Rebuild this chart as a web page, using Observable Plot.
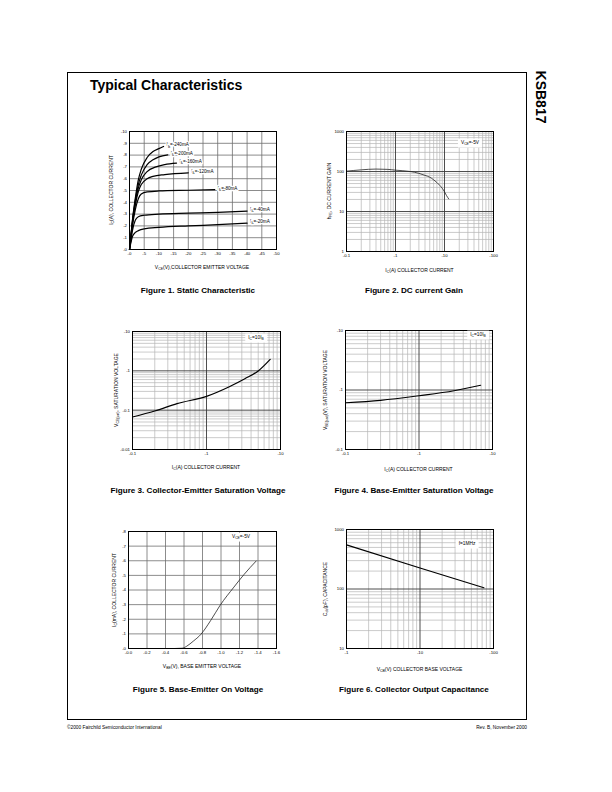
<!DOCTYPE html>
<html><head><meta charset="utf-8">
<script src="https://cdn.jsdelivr.net/npm/d3@7"></script>
<script src="https://cdn.jsdelivr.net/npm/@observablehq/plot@0.6"></script>
<style>
html,body{margin:0;padding:0;background:#fff;}
#page{position:relative;width:612px;height:792px;background:#fff;overflow:hidden;font-family:"Liberation Sans",Arial,sans-serif;color:#000;}
.abs{position:absolute;white-space:nowrap;line-height:1;}
.sub{font-size:70%;position:relative;top:0.3em;}
.box{background:#fff;padding:2px 3px;}
svg{position:absolute;overflow:visible;}
</style></head>
<body><div id="page"></div>
<script>
// ---------- DATA ----------
// Figure 1: static characteristic, [VCE (V), IC (A)] per base current
const fig1Labels = ["I_{B}=-240mA","I_{B}=-200mA","I_{B}=-160mA","I_{B}=-120mA","I_{B}=-80mA","I_{B}=-40mA","I_{B}=-20mA"];
const ib240 = [[0,0],[-0.5,-1.25],[-1,-2.5],[-2,-4.4],[-3,-5.9],[-4,-6.8],[-6,-7.8],[-8,-8.3],[-10,-8.55],[-11.6,-8.73]];
const ib200 = [[0,0],[-0.5,-1.2],[-1,-2.4],[-2,-4.2],[-3,-5.5],[-4,-6.3],[-6,-7.2],[-8,-7.6],[-10,-7.85],[-13,-8.02]];
const ib160 = [[0,0],[-0.5,-1.15],[-1,-2.3],[-2,-4.0],[-3,-5.2],[-4,-5.9],[-6,-6.6],[-9,-7.0],[-12,-7.2],[-16,-7.32]];
const ib120 = [[0,0],[-0.5,-1.1],[-1,-2.2],[-2,-3.8],[-3,-4.9],[-4,-5.5],[-6,-6.0],[-8,-6.2],[-12,-6.35],[-20,-6.5]];
const ib80  = [[0,0],[-0.5,-1.0],[-1,-2.0],[-2,-3.4],[-3,-4.3],[-4,-4.7],[-6,-4.88],[-10,-4.96],[-20,-5.02],[-29,-5.07]];
const ib40  = [[0,0],[-0.5,-0.8],[-1,-1.6],[-2,-2.5],[-3,-2.78],[-5,-2.9],[-10,-3.0],[-20,-3.08],[-30,-3.15],[-40,-3.25]];
const ib20  = [[0,0],[-0.5,-0.6],[-1,-1.1],[-2,-1.45],[-3,-1.6],[-5,-1.75],[-10,-1.87],[-20,-2.0],[-30,-2.1],[-40,-2.23]];
const fig1XTicks = [0,-5,-10,-15,-20,-25,-30,-35,-40,-45,-50];
const fig1YTicks = [0,-1,-2,-3,-4,-5,-6,-7,-8,-9,-10];

// Figure 2: DC current gain
const icGain = [0.1,0.2,0.4,0.7,1,2,3,4,5,6,7,8,9,10,11,12.2];
const hfe    = [102,110,115,113,108,100,90,80,72,62,53,45,38,31,25,20.6];

// Figure 3: VCE(sat)
const icSat  = [0.1,0.2,0.4,1,2,3.3,5,7.25];
const vceSat = [0.067,0.095,0.147,0.225,0.39,0.63,0.99,1.95];

// Figure 4: VBE(sat)
const icBe   = [0.1,0.3,1,3,6.9];
const vbeSat = [0.61,0.67,0.80,0.97,1.2];

// Figure 5: base-emitter on voltage
const vbeOn = [-0.44,-0.5,-0.58,-0.63,-0.7,-0.78,-0.89,-0.99,-1.14,-1.25,-1.38];
const icOn  = [0,0,-0.02,-0.16,-0.5,-0.95,-1.93,-2.95,-4.2,-5.07,-5.98];
const fig5XTicks = [0,-0.2,-0.4,-0.6,-0.8,-1.0,-1.2,-1.4,-1.6];
const fig5YTicks = [0,-1,-2,-3,-4,-5,-6,-7,-8];

// Figure 6: collector output capacitance
const vcb = [1,10,74];
const cob = [553,225,105];

// ---------- HELPERS ----------
const page = document.getElementById("page");
function subHTML(s){return s.replace(/_\{([^}]*)\}/g,'<span class="sub">$1</span>');}
function addText(x,y,s,{size=5,bold=false,rotate=0,anchor="middle",box=false,family=null}={}){
  const d=document.createElement("div");
  d.className="abs"+(box?" box":"");
  d.innerHTML=subHTML(s);
  d.style.fontSize=size+"px";
  if(bold)d.style.fontWeight="bold";
  if(family)d.style.fontFamily=family;
  d.style.left=x+"px";d.style.top=y+"px";
  const tx=anchor==="middle"?"-50%":anchor==="end"?"-100%":"0";
  d.style.transform=`translate(${tx},-50%)`;
  if(rotate){d.style.transform=`translate(-50%,-50%) rotate(${rotate}deg)`;d.style.transformOrigin="50% 50%";}
  page.appendChild(d);return d;
}
function subifySVG(svg){
  svg.querySelectorAll('g[aria-label="text"] text').forEach(t=>{
    const s=t.textContent; if(!s.includes("_{"))return;
    t.textContent="";
    const parts=s.split(/(_\{[^}]*\})/);
    let shifted=false;
    for(const p of parts){ if(!p)continue;
      const ts=document.createElementNS("http://www.w3.org/2000/svg","tspan");
      const m=p.match(/^_\{([^}]*)\}$/);
      if(m){ts.textContent=m[1];ts.setAttribute("font-size","70%");ts.setAttribute("dy","1.2");shifted=true;}
      else{ts.textContent=p; if(shifted){ts.setAttribute("dy","-1.2");shifted=false;}}
      t.appendChild(ts);
    }
  });
}
function logGrid(lo,hi){const minor=[],major=[];
  for(let d=lo;d<hi*1.0001;d*=10){major.push(d);for(let k=2;k<=9;k++){if(d*k<hi*0.9999)minor.push(d*k);}}
  return {minor,major};}
const ML=24,MR=10,MT=6,MB=12;
function place(left,top,w,h,opts){
  const p=Plot.plot(Object.assign({
    width:w+ML+MR,height:h+MT+MB,marginLeft:ML,marginRight:MR,marginTop:MT,marginBottom:MB,
    style:{fontSize:"4.3px",fontFamily:"'Liberation Sans',Arial,sans-serif",background:"transparent",overflow:"visible"}
  },opts));
  p.style.left=(left-ML)+"px";p.style.top=(top-MT)+"px";
  subifySVG(p);
  page.appendChild(p);return p;
}
const axisOpts={tickSize:0,tickPadding:2.5,label:null};
const linGrid="#6e6e6e", minorC="#b4b4b4", majorC="#3a3a3a";
const capFont="'Liberation Sans Narrow','Arial Narrow','Liberation Sans',sans-serif";
const capSize=8.1;

// ---------- FIGURE 1 ----------
const fig1Series=[ib240,ib200,ib160,ib120,ib80,ib40,ib20];
const fig1Data=fig1Series.flatMap((s,i)=>s.map(([v,c])=>({v,c,k:fig1Labels[i]})));
const fig1Ends=fig1Series.map((s,i)=>({v:s[s.length-1][0],c:s[s.length-1][1],k:fig1Labels[i]}));
place(129,131,147,118,{
  x:{domain:[0,-50],ticks:fig1XTicks,tickFormat:d=>d===0?"-0":String(d),...axisOpts},
  y:{domain:[0,-10],ticks:fig1YTicks,tickFormat:d=>d===0?"-0":String(d),...axisOpts},
  marks:[
    Plot.ruleX(fig1XTicks,{stroke:linGrid,strokeWidth:0.8}),
    Plot.ruleY(fig1YTicks,{stroke:linGrid,strokeWidth:0.8}),
    Plot.line(fig1Data,{x:"v",y:"c",z:"k",stroke:"black",strokeWidth:1.2,curve:"monotone-x"}),
    Plot.text(fig1Ends,{x:"v",y:"c",text:"k",textAnchor:"start",dx:3,dy:-1.5,fontSize:4.6,fill:"black",stroke:"white",strokeWidth:2.5}),
    Plot.frame({stroke:"black",strokeWidth:1})
  ]});
addText(112,190,"I_{C}(A), COLLECTOR CURRENT",{rotate:-90,size:5});
addText(202,268,"V_{CE}(V),COLLECTOR EMITTER VOLTAGE",{size:5});
addText(198,291,"Figure 1. Static Characteristic",{size:capSize,bold:true,family:capFont});

// ---------- FIGURE 2 ----------
const g2x=logGrid(0.1,100), g2y=logGrid(1,1000);
place(346,131,147,120,{
  x:{type:"log",domain:[0.1,100],ticks:[0.1,1,10,100],tickFormat:d=>"-"+d,...axisOpts},
  y:{type:"log",domain:[1,1000],ticks:[1,10,100,1000],tickFormat:d=>String(d),...axisOpts},
  marks:[
    Plot.ruleX(g2x.minor,{stroke:minorC,strokeWidth:0.7}),
    Plot.ruleY(g2y.minor,{stroke:minorC,strokeWidth:0.7}),
    Plot.ruleX(g2x.major,{stroke:majorC,strokeWidth:0.9}),
    Plot.ruleY(g2y.major,{stroke:majorC,strokeWidth:0.9}),
    Plot.line(icGain.map((c,i)=>({c,h:hfe[i]})),{x:"c",y:"h",stroke:"#222",strokeWidth:0.8,curve:"monotone-x"}),
    Plot.frame({stroke:"black",strokeWidth:1})
  ]});
addText(330,191,"h_{FE}, DC CURRENT GAIN",{rotate:-90,size:5});
addText(419.5,271,"I_{C}(A) COLLECTOR CURRENT",{size:5});
addText(470,143,"V_{CE}=-5V",{size:4.8,box:true});
addText(414,291,"Figure 2. DC current Gain",{size:capSize,bold:true,family:capFont});

// ---------- FIGURE 3 ----------
const g3x=logGrid(0.1,10), g3y=logGrid(0.01,10);
place(132,331,148,118,{
  x:{type:"log",domain:[0.1,10],ticks:[0.1,1,10],tickFormat:d=>"-"+d,...axisOpts},
  y:{type:"log",domain:[0.01,10],ticks:[0.01,0.1,1,10],tickFormat:d=>"-"+d,...axisOpts},
  marks:[
    Plot.ruleX(g3x.minor,{stroke:minorC,strokeWidth:0.7}),
    Plot.ruleY(g3y.minor,{stroke:minorC,strokeWidth:0.7}),
    Plot.ruleX(g3x.major,{stroke:majorC,strokeWidth:0.9}),
    Plot.ruleY(g3y.major,{stroke:majorC,strokeWidth:0.9}),
    Plot.line(icSat.map((c,i)=>({c,v:vceSat[i]})),{x:"c",y:"v",stroke:"black",strokeWidth:1.2,curve:"monotone-x"}),
    Plot.frame({stroke:"black",strokeWidth:1})
  ]});
addText(117,390,"V_{CE(sat)}, SATURATION VOLTAGE",{rotate:-90,size:5});
addText(206,468,"I_{C}(A) COLLECTOR CURRENT",{size:5});
addText(256,338,"I_{C}=10I_{B}",{size:4.8,box:true});
addText(198,491,"Figure 3. Collector-Emitter Saturation Voltage",{size:capSize,bold:true,family:capFont});

// ---------- FIGURE 4 ----------
const g4x=logGrid(0.1,10), g4y=logGrid(0.1,10);
place(345,330,147,119,{
  x:{type:"log",domain:[0.1,10],ticks:[0.1,1,10],tickFormat:d=>"-"+d,...axisOpts},
  y:{type:"log",domain:[0.1,10],ticks:[0.1,1,10],tickFormat:d=>"-"+d,...axisOpts},
  marks:[
    Plot.ruleX(g4x.minor,{stroke:minorC,strokeWidth:0.7}),
    Plot.ruleY(g4y.minor,{stroke:minorC,strokeWidth:0.7}),
    Plot.ruleX(g4x.major,{stroke:majorC,strokeWidth:0.9}),
    Plot.ruleY(g4y.major,{stroke:majorC,strokeWidth:0.9}),
    Plot.line(icBe.map((c,i)=>({c,v:vbeSat[i]})),{x:"c",y:"v",stroke:"black",strokeWidth:1.1,curve:"monotone-x"}),
    Plot.frame({stroke:"black",strokeWidth:1})
  ]});
addText(326,390,"V_{BE(sat)}(V), SATURATION VOLTAGE",{rotate:-90,size:5});
addText(418.5,470,"I_{C}(A) COLLECTOR CURRENT",{size:5});
addText(478,335,"I_{C}=10I_{B}",{size:4.8,box:true});
addText(414,491,"Figure 4. Base-Emitter Saturation Voltage",{size:capSize,bold:true,family:capFont});

// ---------- FIGURE 5 ----------
place(128,531,148,117,{
  x:{domain:[0,-1.6],ticks:fig5XTicks,tickFormat:d=>d===0?"-0.0":d.toFixed(1),...axisOpts},
  y:{domain:[0,-8],ticks:fig5YTicks,tickFormat:d=>d===0?"-0":String(d),...axisOpts},
  marks:[
    Plot.ruleX(fig5XTicks,{stroke:linGrid,strokeWidth:0.8}),
    Plot.ruleY(fig5YTicks,{stroke:linGrid,strokeWidth:0.8}),
    Plot.line(vbeOn.map((v,i)=>({v,c:icOn[i]})),{x:"v",y:"c",stroke:"#222",strokeWidth:0.8,curve:"monotone-x"}),
    Plot.frame({stroke:"black",strokeWidth:1})
  ]});
addText(115,590,"I_{C}(mA), COLLECTOR CURRENT",{rotate:-90,size:5});
addText(202,667,"V_{BE}(V), BASE EMITTER VOLTAGE",{size:5});
addText(241,537,"V_{CE}=-5V",{size:4.8,box:true});
addText(198,690,"Figure 5. Base-Emitter On Voltage",{size:capSize,bold:true,family:capFont});

// ---------- FIGURE 6 ----------
const g6x=logGrid(1,100), g6y=logGrid(10,1000);
place(346,529,147,119,{
  x:{type:"log",domain:[1,100],ticks:[1,10,100],tickFormat:d=>"-"+d,...axisOpts},
  y:{type:"log",domain:[10,1000],ticks:[10,100,1000],tickFormat:d=>String(d),...axisOpts},
  marks:[
    Plot.ruleX(g6x.minor,{stroke:minorC,strokeWidth:0.7}),
    Plot.ruleY(g6y.minor,{stroke:minorC,strokeWidth:0.7}),
    Plot.ruleX(g6x.major,{stroke:majorC,strokeWidth:0.9}),
    Plot.ruleY(g6y.major,{stroke:majorC,strokeWidth:0.9}),
    Plot.line(vcb.map((v,i)=>({v,c:cob[i]})),{x:"v",y:"c",stroke:"black",strokeWidth:1.2}),
    Plot.frame({stroke:"black",strokeWidth:1})
  ]});
addText(326,589,"C_{ob}(pF), CAPACITANCE",{rotate:-90,size:5});
addText(419.5,670,"V_{CB}(V) COLLECTOR BASE VOLTAGE",{size:5});
addText(467,544,"f=1MHz",{size:4.8,box:true});
addText(414,690,"Figure 6. Collector Output Capacitance",{size:capSize,bold:true,family:capFont});

// ---------- PAGE FRAME ----------
const border=document.createElement("div");
border.style.cssText="position:absolute;left:67px;top:72px;width:460px;height:648px;border:1px solid #000;box-sizing:border-box;pointer-events:none;";
page.appendChild(border);
addText(90,85,"Typical Characteristics",{size:14,bold:true,anchor:"start"});
addText(541,97,"KSB817",{size:14,bold:true,rotate:90});
addText(67,728,"©2000 Fairchild Semiconductor International",{size:4.8,anchor:"start"});
addText(527,728,"Rev. B, November 2000",{size:4.8,anchor:"end"});
</script>
</body></html>
